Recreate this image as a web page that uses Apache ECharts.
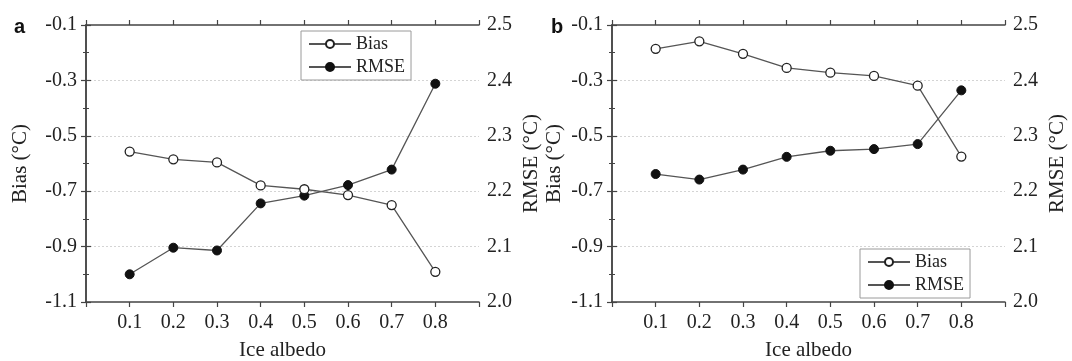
<!DOCTYPE html>
<html>
<head>
<meta charset="utf-8">
<script src="https://cdn.jsdelivr.net/npm/echarts@6/dist/echarts.min.js"></script>
<style>
  html, body { margin: 0; padding: 0; background: #fff; }
  #chart { width: 1072px; height: 361px; }
</style>
</head>
<body>
<div id="chart"></div>
<script>
// Ice albedo sensitivity: temperature bias and RMSE for two experiments
const albedo = [0.1, 0.2, 0.3, 0.4, 0.5, 0.6, 0.7, 0.8];

const biasA = [-0.557, -0.585, -0.596, -0.679, -0.693, -0.714, -0.750, -0.991];
const rmseA = [2.050, 2.098, 2.093, 2.178, 2.192, 2.211, 2.239, 2.394];

const biasB = [-0.186, -0.159, -0.204, -0.255, -0.272, -0.284, -0.319, -0.575];
const rmseB = [2.231, 2.221, 2.239, 2.262, 2.273, 2.276, 2.285, 2.382];

const panelLetters = ['a', 'b'];
const xName = 'Ice albedo';
const biasName = 'Bias (°C)';
const rmseName = 'RMSE (°C)';

const serif = "'Liberation Serif', 'Times New Roman', serif";
const axisColor = '#444';
const textColor = '#222';

const pairs = (ys) => albedo.map((x, i) => [x, ys[i]]);

// fixed plot rectangles; labels are allowed to sit outside them
const grids = [
  { left: 86, right: 593, top: 25, bottom: 59, containLabel: false, outerBoundsMode: 'none' },
  { left: 612, right: 67, top: 25, bottom: 59, containLabel: false, outerBoundsMode: 'none' }
];

function xAxes(gridIndex) {
  const base = {
    gridIndex, type: 'value', min: 0, max: 0.9, interval: 0.1,
    axisLine: { show: true, lineStyle: { color: axisColor, width: 1.5 } },
    axisTick: { show: true, inside: false, length: 5, lineStyle: { color: axisColor, width: 1.2 } },
    splitLine: { show: false }
  };
  return [
    Object.assign({}, base, {
      position: 'bottom',
      name: xName, nameLocation: 'middle', nameGap: 38,
      nameTextStyle: { fontFamily: serif, fontSize: 21, color: textColor },
      axisLabel: {
        margin: 11, fontFamily: serif, fontSize: 20, color: textColor,
        formatter: (v) => (v > 0.05 && v < 0.85) ? v.toFixed(1) : ''
      }
    }),
    Object.assign({}, base, { position: 'top', axisLabel: { show: false } })
  ];
}

function yAxes(gridIndex, leftGap, rightGap) {
  const common = {
    gridIndex, type: 'value',
    axisLine: { show: true, lineStyle: { color: axisColor, width: 1.5 } },
    axisTick: { show: true, inside: false, length: 5, lineStyle: { color: axisColor, width: 1.2 } },
    minorTick: { show: true, splitNumber: 2, length: 3, lineStyle: { color: axisColor, width: 1 } },
    nameLocation: 'middle', nameRotate: 90,
    nameTextStyle: { fontFamily: serif, fontSize: 21, color: textColor }
  };
  return [
    Object.assign({}, common, {
      position: 'left', min: -1.1, max: -0.1, interval: 0.2,
      name: biasName, nameGap: leftGap,
      axisLabel: { margin: 9, fontFamily: serif, fontSize: 20, color: textColor,
                   formatter: (v) => v.toFixed(1) },
      splitLine: { show: true, showMinLine: false, showMaxLine: false,
                   lineStyle: { color: '#d4d4d4', type: [2, 2], width: 1 } }
    }),
    Object.assign({}, common, {
      position: 'right', min: 2.0, max: 2.5, interval: 0.1,
      name: rmseName, nameGap: rightGap,
      axisLabel: { margin: 8, fontFamily: serif, fontSize: 20, color: textColor,
                   formatter: (v) => v.toFixed(1) },
      splitLine: { show: false }
    })
  ];
}

function makeSeries(name, ys, xIdx, yIdx, filled) {
  return {
    name, type: 'line', xAxisIndex: xIdx, yAxisIndex: yIdx,
    data: pairs(ys),
    symbol: 'circle', symbolSize: 9,
    lineStyle: { color: '#555', width: 1.3 },
    itemStyle: filled
      ? { color: '#111', borderColor: '#111', borderWidth: 1 }
      : { color: '#fff', borderColor: '#222', borderWidth: 1.3 },
    emphasis: { disabled: true },
    z: filled ? 3 : 4
  };
}

function legendAt(left, top) {
  return {
    left, top, orient: 'vertical',
    data: ['Bias', 'RMSE'],
    itemWidth: 42, itemHeight: 10, itemGap: 5,
    padding: [4, 6, 4, 7],
    borderColor: '#9a9a9a', borderWidth: 1,
    backgroundColor: '#fff',
    selectedMode: false,
    textStyle: { fontFamily: serif, fontSize: 18, color: textColor }
  };
}

const option = {
  animation: false,
  backgroundColor: '#fff',
  grid: grids,
  xAxis: [...xAxes(0), ...xAxes(1)],
  yAxis: [...yAxes(0, 55, 42), ...yAxes(1, 47, 42)],
  legend: [legendAt(301, 31), legendAt(860, 249)],
  series: [
    makeSeries('Bias', biasA, 0, 0, false),
    makeSeries('RMSE', rmseA, 0, 1, true),
    makeSeries('Bias', biasB, 2, 2, false),
    makeSeries('RMSE', rmseB, 2, 3, true)
  ],
  graphic: [
    { type: 'text', left: 14, top: 17,
      style: { text: panelLetters[0], font: "bold 20px 'Liberation Sans', Arial, sans-serif", fill: '#111' } },
    { type: 'text', left: 551, top: 17,
      style: { text: panelLetters[1], font: "bold 20px 'Liberation Sans', Arial, sans-serif", fill: '#111' } }
  ]
};

const chart = echarts.init(document.getElementById('chart'), null, { renderer: 'canvas' });
chart.setOption(option);
</script>
</body>
</html>
